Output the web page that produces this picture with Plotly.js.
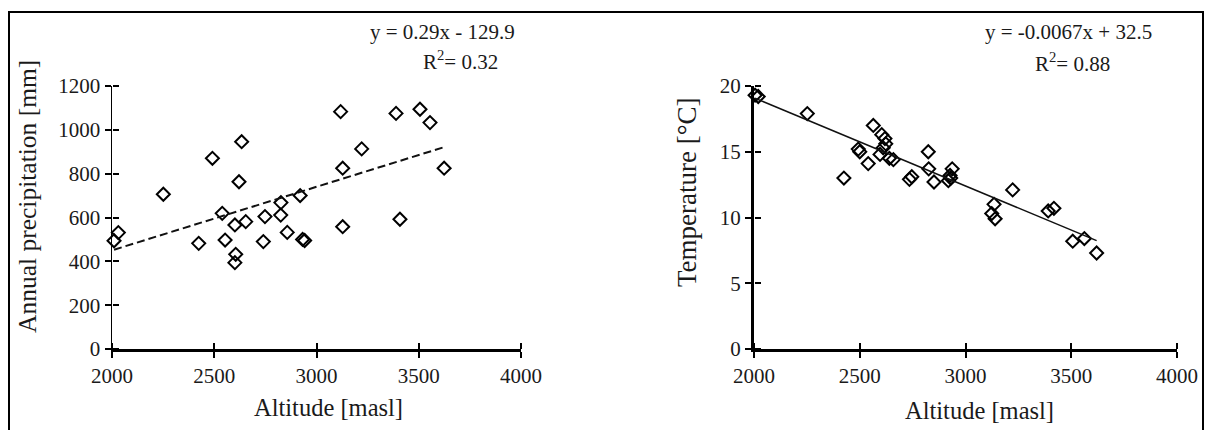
<!DOCTYPE html>
<html>
<head>
<meta charset="utf-8">
<script src="https://cdn.plot.ly/plotly-3.0.1.min.js"></script>
<style>
  html, body { margin: 0; padding: 0; background: #fff; }
  #wrap { position: relative; width: 1214px; height: 430px; overflow: hidden; }
  #chart { position: absolute; left: 0; top: 0; width: 1214px; height: 430px; }
  #frame { position: absolute; left: 8px; top: 11px; width: 1196px; height: 440px;
           border: 2px solid #000; box-sizing: border-box; pointer-events: none; }
</style>
</head>
<body>
<div id="wrap">
  <div id="chart"></div>
  <div id="frame"></div>
</div>
<script>
// ---- Data ----
const precipAltitude = [2010, 2031, 2251, 2424, 2491, 2539, 2553, 2601, 2605, 2601,
                        2621, 2634, 2654, 2740, 2748, 2825, 2826, 2857, 2920, 2932,
                        2942, 3118, 3128, 3128, 3221, 3389, 3408, 3506, 3555, 3624];
const precipValues   = [494, 531, 706, 482, 870, 619, 497, 566, 432, 394,
                        763, 946, 581, 490, 604, 611, 668, 532, 700, 500,
                        495, 1083, 825, 558, 913, 1075, 592, 1094, 1033, 825];

const tempAltitude = [2005, 2020, 2252, 2425, 2493, 2500, 2540, 2564, 2596, 2604,
                      2611, 2619, 2623, 2640, 2659, 2735, 2746, 2824, 2826, 2851,
                      2919, 2927, 2930, 2937, 3124, 3135, 3140, 3223, 3391, 3418,
                      3507, 3562, 3620];
const tempValues   = [19.3, 19.2, 17.9, 13.0, 15.2, 15.0, 14.1, 17.0, 14.8, 16.3,
                      15.3, 16.0, 15.6, 14.5, 14.4, 12.9, 13.1, 15.0, 13.7, 12.7,
                      12.8, 13.2, 13.0, 13.7, 10.3, 11.0, 9.9, 12.1, 10.5, 10.7,
                      8.2, 8.4, 7.3];

// Trendline coefficients (as printed on the chart)
const precipSlope = 0.29, precipIntercept = -129.9, precipR2 = '0.32';
const tempSlope = -0.0067, tempIntercept = 32.5, tempR2 = '0.88';

const xTickValues = [2000, 2500, 3000, 3500, 4000];
const precipTickValues = [0, 200, 400, 600, 800, 1000, 1200];
const tempTickValues = [0, 5, 10, 15, 20];

const xTitle = 'Altitude [masl]';
const precipTitle = 'Annual precipitation [mm]';
const tempTitle = 'Temperature [°C]';

// ---- Build traces ----
function trend(xs, a, b) {
  const lo = Math.min(...xs), hi = Math.max(...xs);
  return { x: [lo, hi], y: [a * lo + b, a * hi + b] };
}
const pTrend = trend(precipAltitude, precipSlope, precipIntercept);
const tTrend = trend(tempAltitude, tempSlope, tempIntercept);

const markerStyle = { symbol: 'diamond-open', size: 10, color: '#000', line: { width: 2, color: '#000' } };

const traces = [
  { x: pTrend.x, y: pTrend.y, xaxis: 'x3', yaxis: 'y3', mode: 'lines',
    line: { color: '#111', width: 2, dash: '8px,4px' }, hoverinfo: 'skip' },
  { x: precipAltitude, y: precipValues, xaxis: 'x', yaxis: 'y', mode: 'markers',
    marker: markerStyle, cliponaxis: false },
  { x: tTrend.x, y: tTrend.y, xaxis: 'x4', yaxis: 'y4', mode: 'lines',
    line: { color: '#111', width: 1.5 }, hoverinfo: 'skip' },
  { x: tempAltitude, y: tempValues, xaxis: 'x2', yaxis: 'y2', mode: 'markers',
    marker: markerStyle, cliponaxis: false }
];

const W = 1214, H = 430;
const px = v => v / W, py = v => 1 - v / H;
const yDom = [py(349), py(86)];
const leftDom = [px(112), px(521)];
const rightDom = [px(754), px(1177)];

const serif = 'Liberation Serif, Times New Roman, serif';
const tickFont = { family: serif, size: 21, color: '#1a1a1a' };
const base = {
  showgrid: false, zeroline: false, showline: true, linecolor: '#000',
  ticks: 'outside', ticklen: 6, tickwidth: 2, tickcolor: '#000',
  tickfont: tickFont, fixedrange: true
};
// Mirror axes placed on the same lines, ticking to the other side (cross ticks)
const overlay = {
  showgrid: false, zeroline: false, showline: false, showticklabels: false,
  ticks: 'outside', ticklen: 6, tickwidth: 2, tickcolor: '#000', fixedrange: true,
  anchor: 'free'
};

const layout = {
  width: W, height: H,
  margin: { l: 0, r: 0, t: 0, b: 0 },
  paper_bgcolor: '#fff', plot_bgcolor: 'rgba(0,0,0,0)',
  showlegend: false,
  xaxis: Object.assign({}, base, { domain: leftDom, anchor: 'y', range: [2000, 4000],
    tickvals: xTickValues, linewidth: 3 }),
  yaxis: Object.assign({}, base, { domain: yDom, anchor: 'x', range: [0, 1200],
    tickvals: precipTickValues, linewidth: 1.5 }),
  xaxis3: Object.assign({}, overlay, { overlaying: 'x', side: 'top', position: yDom[0],
    range: [2000, 4000], tickvals: xTickValues }),
  yaxis3: Object.assign({}, overlay, { overlaying: 'y', side: 'right', position: leftDom[0],
    range: [0, 1200], tickvals: precipTickValues }),
  xaxis2: Object.assign({}, base, { domain: rightDom, anchor: 'y2', range: [2000, 4000],
    tickvals: xTickValues, linewidth: 3 }),
  yaxis2: Object.assign({}, base, { domain: yDom, anchor: 'x2', range: [0, 20],
    tickvals: tempTickValues, linewidth: 3 }),
  xaxis4: Object.assign({}, overlay, { overlaying: 'x2', side: 'top', position: yDom[0],
    range: [2000, 4000], tickvals: xTickValues }),
  yaxis4: Object.assign({}, overlay, { overlaying: 'y2', side: 'right', position: rightDom[0],
    range: [0, 20], tickvals: tempTickValues }),
  annotations: [
    { text: 'y = ' + precipSlope + 'x - ' + Math.abs(precipIntercept).toFixed(1), x: px(442), y: py(32) },
    { text: 'R<sup>2</sup>= ' + precipR2, x: px(460), y: py(60) },
    { text: 'y = ' + tempSlope + 'x + ' + tempIntercept, x: px(1068), y: py(32) },
    { text: 'R<sup>2</sup>= ' + tempR2, x: px(1072), y: py(62) },
    { text: precipTitle, x: px(27), y: py(197), textangle: -90, font: { size: 25.5 } },
    { text: tempTitle, x: px(687), y: py(192), textangle: -90, font: { size: 27 } },
    { text: xTitle, x: px(329), y: py(407), font: { size: 24.5 } },
    { text: xTitle, x: px(979), y: py(410), font: { size: 24.5 } }
  ].map(a => Object.assign({
    xref: 'paper', yref: 'paper', showarrow: false, xanchor: 'center', yanchor: 'middle'
  }, a, { font: Object.assign({ family: serif, size: 21, color: '#1a1a1a' }, a.font || {}) }))
};

Plotly.newPlot('chart', traces, layout, { staticPlot: true, displayModeBar: false });
</script>
</body>
</html>
